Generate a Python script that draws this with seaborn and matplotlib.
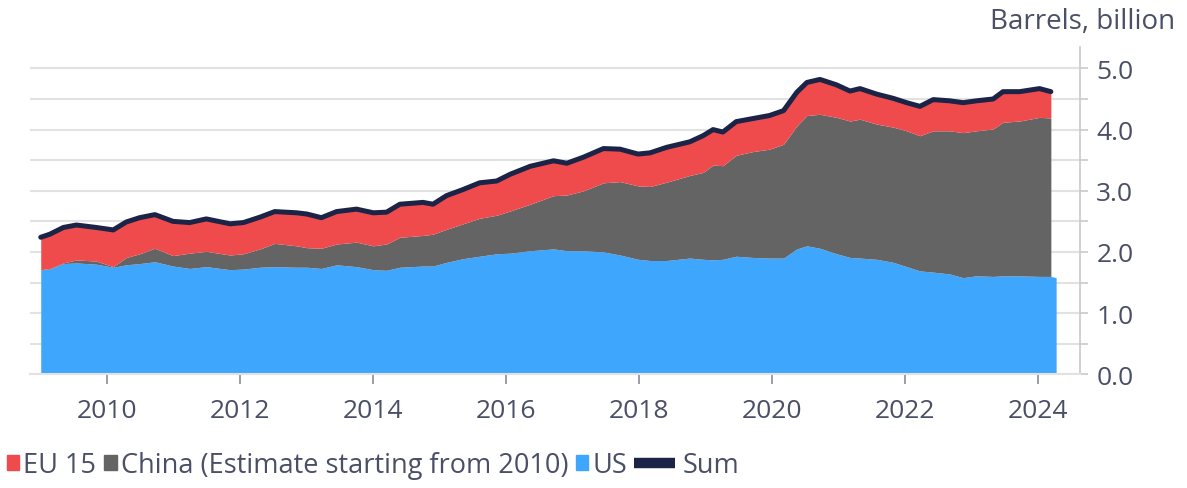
import pandas as pd
import numpy as np
import seaborn as sns
import matplotlib.pyplot as plt
from matplotlib.patches import Patch
from matplotlib.lines import Line2D

# values (billion barrels)
dates = ["2009-01-01", "2009-02-20", "2009-05-05", "2009-07-16", "2009-11-02",
         "2010-02-03", "2010-04-16", "2010-06-28", "2010-09-20", "2010-12-28",
         "2011-03-30", "2011-06-29", "2011-11-07", "2012-01-19", "2012-04-20",
         "2012-07-09", "2012-11-06", "2013-01-01", "2013-03-22", "2013-06-14",
         "2013-10-01", "2014-01-01", "2014-03-15", "2014-05-27", "2014-10-02",
         "2014-11-25", "2015-02-07", "2015-05-09", "2015-08-08", "2015-11-10",
         "2016-01-23", "2016-05-12", "2016-09-17", "2016-11-29", "2017-03-01",
         "2017-06-18", "2017-09-17", "2017-12-25", "2018-03-01", "2018-05-31",
         "2018-10-05", "2018-12-17", "2019-02-10", "2019-04-05", "2019-06-17",
         "2019-09-16", "2019-12-17", "2020-03-03", "2020-05-15", "2020-07-09",
         "2020-09-19", "2020-12-20", "2021-03-03", "2021-04-27", "2021-07-27",
         "2021-10-27", "2022-01-08", "2022-03-22", "2022-06-03", "2022-09-02",
         "2022-11-14", "2023-01-26", "2023-04-28", "2023-06-21", "2023-09-20",
         "2024-01-08", "2024-03-10", "2024-04-08"]

us = [1.71, 1.72, 1.81, 1.82, 1.80, 1.75, 1.79, 1.81, 1.84, 1.77,
      1.73, 1.76, 1.71, 1.72, 1.75, 1.76, 1.75, 1.75, 1.73, 1.79,
      1.76, 1.71, 1.70, 1.75, 1.77, 1.77, 1.83, 1.89, 1.93, 1.97,
      1.98, 2.02, 2.05, 2.02, 2.02, 2.00, 1.95, 1.88, 1.86, 1.86,
      1.90, 1.88, 1.87, 1.88, 1.93, 1.91, 1.90, 1.90, 2.05, 2.10,
      2.06, 1.97, 1.91, 1.90, 1.88, 1.83, 1.76, 1.69, 1.67, 1.64,
      1.58, 1.61, 1.60, 1.61, 1.61, 1.60, 1.60, 1.58]

china = [0.00, 0.01, 0.01, 0.05, 0.05, 0.01, 0.12, 0.16, 0.22, 0.17,
         0.25, 0.25, 0.24, 0.25, 0.30, 0.38, 0.35, 0.32, 0.33, 0.34,
         0.40, 0.39, 0.43, 0.49, 0.50, 0.52, 0.54, 0.57, 0.62, 0.63,
         0.69, 0.76, 0.87, 0.91, 0.98, 1.13, 1.20, 1.20, 1.21, 1.28,
         1.35, 1.42, 1.55, 1.53, 1.65, 1.73, 1.78, 1.86, 2.01, 2.13,
         2.19, 2.23, 2.23, 2.27, 2.21, 2.21, 2.22, 2.21, 2.31, 2.34,
         2.37, 2.37, 2.41, 2.51, 2.53, 2.60, 2.59, np.nan]

eu15 = [0.53, 0.56, 0.58, 0.57, 0.55, 0.60, 0.58, 0.59, 0.55, 0.56,
        0.50, 0.53, 0.51, 0.51, 0.52, 0.52, 0.54, 0.55, 0.50, 0.53,
        0.54, 0.54, 0.52, 0.54, 0.54, 0.49, 0.55, 0.56, 0.58, 0.56,
        0.60, 0.62, 0.57, 0.52, 0.55, 0.56, 0.53, 0.52, 0.55, 0.57,
        0.55, 0.60, 0.58, 0.55, 0.55, 0.54, 0.55, 0.55, 0.55, 0.54,
        0.57, 0.53, 0.49, 0.50, 0.49, 0.47, 0.46, 0.48, 0.51, 0.49,
        0.49, 0.49, 0.49, 0.50, 0.48, 0.47, 0.43, np.nan]

year_ticks = [2010, 2012, 2014, 2016, 2018, 2020, 2022, 2024]

c_eu = "#ef4b4d"
c_china = "#646464"
c_us = "#3fa6fe"
c_sum = "#1b2447"
c_text = "#4a4f66"
c_grid = "#e2e2e2"

df = pd.DataFrame({"date": pd.to_datetime(dates), "US": us, "China": china, "EU 15": eu15})
df["Sum"] = df[["US", "China", "EU 15"]].sum(axis=1, skipna=False)
df["us_china"] = df["US"] + df["China"]

sns.set_theme(style="white")
plt.rcParams['font.family'] = ['Open Sans', 'DejaVu Sans']

fig = plt.figure(figsize=(11.87, 4.89), dpi=100)
ax = fig.add_axes([30 / 1187, 113.7 / 489, 1050 / 1187, 327.3 / 489])

# stacked areas
ax.fill_between(df["date"], 0, df["US"], color=c_us, lw=0, zorder=2)
ax.fill_between(df["date"], df["US"], df["us_china"], color=c_china, lw=0, zorder=2)
ax.fill_between(df["date"], df["us_china"], df["Sum"], color=c_eu, lw=0, zorder=2)
sns.lineplot(data=df, x="date", y="Sum", color=c_sum, lw=3.6, ax=ax, zorder=3)

ax.set_xlim(pd.Timestamp("2008-11-03"), pd.Timestamp("2024-08-17"))
ax.set_ylim(0, 5.35)
ax.set_xlabel("")
ax.set_ylabel("")

ax.set_xticks([pd.Timestamp(f"{y}-01-01") for y in year_ticks])
ax.set_xticklabels([str(y) for y in year_ticks])
ax.set_yticks(np.arange(0, 5.01, 1.0))
ax.set_yticks(np.arange(0.5, 5.01, 1.0), minor=True)
ax.yaxis.set_major_formatter("{x:.1f}")
ax.yaxis.tick_right()

ax.grid(which="both", axis="y", color=c_grid, lw=1.5, zorder=0)
ax.grid(False, axis="x")
for s in ["left", "top"]:
    ax.spines[s].set_visible(False)
ax.spines["right"].set_color("#c9c9cc")
ax.spines["bottom"].set_color(c_grid)
ax.spines["right"].set_linewidth(1.2)
ax.spines["bottom"].set_linewidth(1.5)

ax.tick_params(axis="y", which="both", right=True, left=False, length=5.7, width=1.2,
               color="#c9c9cc", labelsize=19, labelcolor=c_text, pad=6)
ax.tick_params(axis="x", bottom=True, length=7, width=1.2, color="#8a8d99",
               labelsize=19, labelcolor=c_text, pad=10)

fig.text(1175 / 1187, 1 - 22 / 489, "Barrels, billion", ha="right", va="center",
         fontsize=20, color=c_text)

# legend: squares for areas, a thick bar for the sum line
h1 = [Patch(color=c_eu, label="EU 15"),
      Patch(color=c_china, label="China (Estimate starting from 2010)"),
      Patch(color=c_us, label="US")]
leg1 = fig.legend(handles=h1, loc="center left", bbox_to_anchor=(7 / 1187, 0.047),
                  ncol=3, frameon=False, fontsize=19.5, handlelength=0.45, handleheight=0.45,
                  handletextpad=0.15, columnspacing=0.3, borderpad=0, borderaxespad=0,
                  labelcolor=c_text)
fig.canvas.draw()
bb = leg1.get_window_extent()
h2 = [Line2D([0], [0], color=c_sum, lw=7.5, solid_capstyle="butt", label="Sum")]
fig.legend(handles=h2, loc="center left", bbox_to_anchor=(bb.x1 / fig.bbox.width + 7 / 1187, 0.047),
           frameon=False, fontsize=19.5, handlelength=1.5, handletextpad=0.3,
           borderpad=0, borderaxespad=0, labelcolor=c_text)

plt.savefig("out.png", dpi=100)
